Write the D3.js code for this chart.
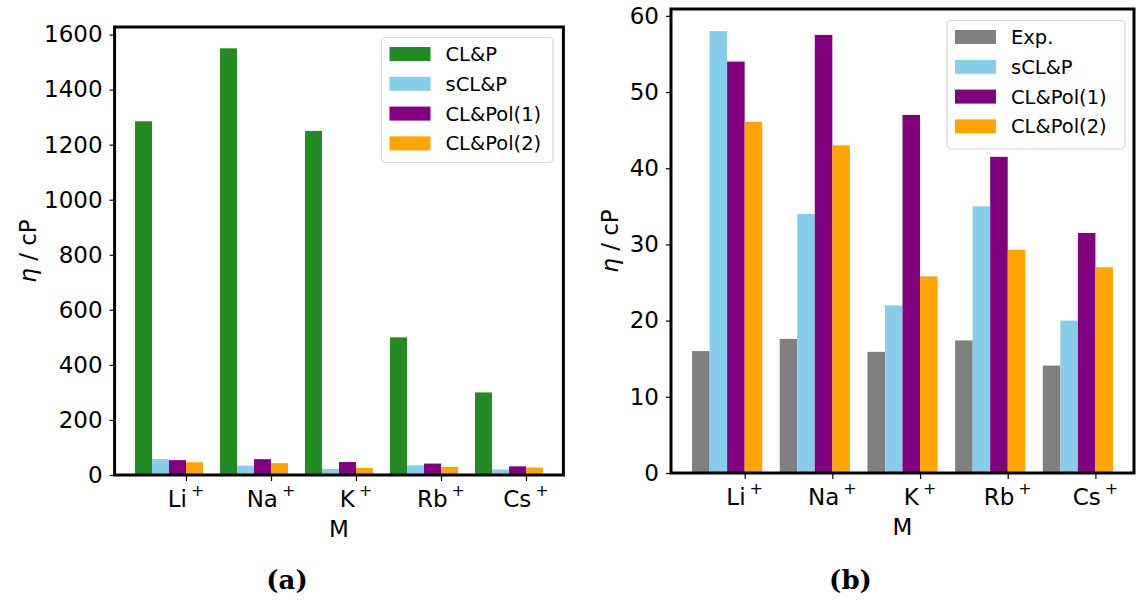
<!DOCTYPE html>
<html>
<head>
<meta charset="utf-8">
<script src="https://cdn.jsdelivr.net/npm/d3@7"></script>
<style>
  html, body { margin: 0; padding: 0; background: #fff; }
  svg { display: block; font-family: "DejaVu Sans", sans-serif; }
</style>
</head>
<body>
<svg id="chart" width="1137" height="600"></svg>
<script>
// Cation labels (drawn with a superscript +)
const cations = ["Li", "Na", "K", "Rb", "Cs"];

// Panel (a): viscosity in cP
const clpA = [1285, 1550, 1250, 500, 300];
// Shared series (panel a and panel b)
const sclp = [58, 34, 22, 35, 20];
const pol1 = [54, 57.5, 47, 41.5, 31.5];
const pol2 = [46.1, 43, 25.8, 29.3, 27];
// Panel (b): experimental reference
const expB = [16, 17.6, 15.9, 17.4, 14.1];

const yTicksA = [0, 200, 400, 600, 800, 1000, 1200, 1400, 1600];
const yTicksB = [0, 10, 20, 30, 40, 50, 60];

const seriesA = [
  { name: "CL&P", color: "#228B22", values: clpA },
  { name: "sCL&P", color: "#87CEEB", values: sclp },
  { name: "CL&Pol(1)", color: "#800080", values: pol1 },
  { name: "CL&Pol(2)", color: "#FFA500", values: pol2 }
];
const seriesB = [
  { name: "Exp.", color: "#808080", values: expB },
  { name: "sCL&P", color: "#87CEEB", values: sclp },
  { name: "CL&Pol(1)", color: "#800080", values: pol1 },
  { name: "CL&Pol(2)", color: "#FFA500", values: pol2 }
];

const svg = d3.select("#chart");
const barW = 0.2;
const FS = 23;

function panel(opts) {
  const { left, right, top, bottom, yMax, yTicks, series, caption, legend } = opts;
  const g = svg.append("g");

  const x = d3.scaleLinear().domain([-0.84, 4.44]).range([left, right]);
  const y = d3.scaleLinear().domain([0, yMax]).range([bottom, top]);

  // bars: series j occupies [i + (j-3)*w, i + (j-2)*w]
  series.forEach((s, j) => {
    g.append("g").selectAll("rect")
      .data(s.values)
      .join("rect")
      .attr("x", (d, i) => x(i + (j - 3) * barW))
      .attr("width", (d, i) => x(i + (j - 2) * barW) - x(i + (j - 3) * barW))
      .attr("y", d => y(d))
      .attr("height", d => y(0) - y(d))
      .attr("fill", s.color);
  });

  // y axis
  const yAxis = d3.axisLeft(y).tickValues(yTicks).tickSize(5).tickPadding(7)
    .tickFormat(d3.format("d"));
  const ya = g.append("g").attr("transform", `translate(${left},0)`).call(yAxis);
  ya.select(".domain").remove();
  ya.selectAll(".tick line").attr("stroke", "#000").attr("stroke-width", 1.2);
  ya.selectAll(".tick text")
    .attr("font-size", FS).attr("fill", "#000")
    .attr("font-family", "DejaVu Sans");

  // x axis (ticks only; labels drawn with superscript)
  const xAxis = d3.axisBottom(x).tickValues(d3.range(cations.length)).tickSize(6).tickFormat("");
  const xa = g.append("g").attr("transform", `translate(0,${bottom})`).call(xAxis);
  xa.select(".domain").remove();
  xa.selectAll(".tick line").attr("stroke", "#000").attr("stroke-width", 1.2);

  const lbl = g.append("g").selectAll("text")
    .data(cations)
    .join("text")
    .attr("x", (d, i) => x(i))
    .attr("y", bottom + 31.5)
    .attr("text-anchor", "middle")
    .attr("font-size", FS)
    .attr("fill", "#000");
  lbl.append("tspan").text(d => d);
  lbl.append("tspan").attr("dx", 4).attr("dy", -11).attr("font-size", 16).text("+");

  // frame
  g.append("rect")
    .attr("x", left).attr("y", top)
    .attr("width", right - left).attr("height", bottom - top)
    .attr("fill", "none").attr("stroke", "#000").attr("stroke-width", 3);

  // axis labels
  g.append("text")
    .attr("x", (left + right) / 2).attr("y", bottom + 62)
    .attr("text-anchor", "middle").attr("font-size", FS).attr("fill", "#000")
    .text("M");

  const yl = g.append("text")
    .attr("transform", `translate(${opts.ylabelX},${(top + bottom) / 2}) rotate(-90)`)
    .attr("text-anchor", "middle").attr("font-size", FS).attr("fill", "#000");
  yl.append("tspan").attr("font-style", "italic").text("η");
  yl.append("tspan").text(" / cP");

  // legend
  const lg = g.append("g");
  lg.append("rect")
    .attr("x", legend.x).attr("y", legend.y)
    .attr("width", legend.w).attr("height", legend.h)
    .attr("rx", 4).attr("ry", 4)
    .attr("fill", "#fff").attr("fill-opacity", 0.8)
    .attr("stroke", "#d6d6d6").attr("stroke-width", 1.2);
  series.forEach((s, k) => {
    const cy = legend.y + 16.5 + k * 29.8;
    lg.append("rect")
      .attr("x", legend.x + 8).attr("y", cy - 7)
      .attr("width", 41).attr("height", 14)
      .attr("fill", s.color);
    lg.append("text")
      .attr("x", legend.x + 64).attr("y", cy)
      .attr("dy", "0.36em")
      .attr("font-size", 19.5).attr("fill", "#000")
      .text(s.name);
  });

  // caption
  svg.append("text")
    .attr("x", (left + right) / 2 - 52).attr("y", 589)
    .attr("text-anchor", "middle")
    .attr("font-family", "DejaVu Serif")
    .attr("font-weight", "bold")
    .attr("font-size", 26)
    .attr("fill", "#000")
    .text(caption);
}

panel({
  left: 114.6, right: 563.4, top: 27, bottom: 475,
  yMax: 1627.5, yTicks: yTicksA, series: seriesA, caption: "(a)",
  ylabelX: 36,
  legend: { x: 381.5, y: 37.5, w: 171.5, h: 125 }
});

panel({
  left: 671, right: 1134, top: 9, bottom: 473,
  yMax: 60.9, yTicks: yTicksB, series: seriesB, caption: "(b)",
  ylabelX: 618,
  legend: { x: 947, y: 20.5, w: 178, h: 128.5 }
});
</script>
</body>
</html>
